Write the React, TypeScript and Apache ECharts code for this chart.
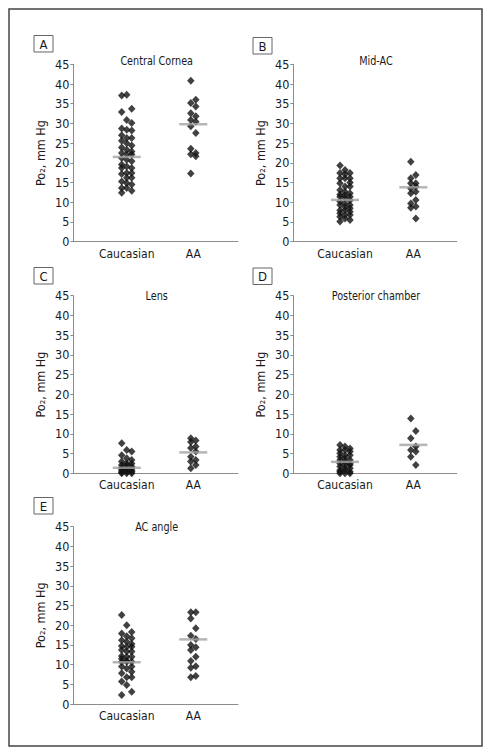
import React, { useEffect, useRef } from 'react';
import * as echarts from 'echarts';

// ---- data ----
const categories = ['Caucasian', 'AA'];
const panelLetters = ['A', 'B', 'C', 'D', 'E'];
const panelTitles = ['Central Cornea', 'Mid-AC', 'Lens', 'Posterior chamber', 'AC angle'];
const yAxisName = 'Po₂, mm Hg';
const yMin = 0;
const yMax = 45;
const yInterval = 5;

const corneaCaucasian = [37.1, 37.3, 33.7, 32.9, 30.9, 30.1, 28.7, 28.4, 28.2, 27.0, 26.3, 26.3, 25.6, 25.0, 24.4, 23.9, 23.3, 22.9, 22.5, 22.1, 22.1, 21.2, 20.8, 20.4, 19.6, 19.1, 18.7, 18.7, 17.4, 17.4, 17.2, 16.2, 16.2, 15.3, 14.9, 14.5, 13.6, 13.6, 12.9, 12.4];
const corneaAA = [40.8, 36.0, 35.2, 34.3, 32.6, 31.8, 30.9, 30.4, 29.3, 27.6, 23.6, 22.5, 22.2, 21.7, 17.3];
const midACCaucasian = [19.3, 18.2, 17.4, 17.4, 17.1, 16.1, 16.1, 16.1, 15.0, 14.8, 14.0, 14.0, 13.1, 12.7, 12.3, 12.0, 11.8, 11.4, 11.4, 11.0, 10.5, 10.2, 9.7, 9.3, 9.3, 8.8, 8.5, 8.0, 8.0, 7.6, 7.2, 6.8, 6.8, 6.3, 5.9, 5.5, 5.1];
const midACAA = [20.3, 16.9, 16.1, 14.8, 14.8, 14.0, 13.5, 12.7, 12.3, 10.6, 9.7, 8.9, 8.6, 5.9];
const lensCaucasian = [7.6, 5.9, 5.5, 4.6, 3.8, 3.4, 3.0, 2.5, 2.5, 2.1, 2.1, 1.7, 1.5, 1.3, 1.3, 1.0, 0.8, 0.8, 0.6, 0.4, 0.4, 0.2, 0.0, 0.0, 0.0];
const lensAA = [8.9, 8.3, 7.9, 6.8, 6.4, 5.5, 4.2, 3.4, 3.0, 2.1, 1.3];
const posteriorCaucasian = [7.2, 6.8, 6.3, 5.9, 5.9, 5.5, 5.1, 4.6, 4.6, 4.2, 3.8, 3.4, 3.4, 3.0, 2.5, 2.5, 2.1, 2.1, 1.7, 1.3, 1.3, 0.8, 0.8, 0.4, 0.4, 0.0, 0.0, 0.0];
const posteriorAA = [13.9, 10.7, 8.9, 6.8, 5.9, 5.5, 4.2, 2.1];
const angleCaucasian = [22.6, 20.0, 18.3, 17.9, 17.2, 16.7, 16.2, 15.8, 15.2, 14.7, 14.5, 14.5, 13.7, 13.3, 13.3, 12.2, 12.0, 12.0, 11.5, 11.0, 10.7, 10.7, 10.7, 9.5, 9.5, 9.0, 8.2, 7.8, 6.8, 6.8, 5.7, 4.8, 3.1, 2.3];
const angleAA = [23.3, 23.3, 21.7, 19.2, 17.3, 16.5, 15.0, 14.4, 13.7, 12.0, 10.9, 9.6, 9.2, 7.1, 6.8];

const caucasianValues = [corneaCaucasian, midACCaucasian, lensCaucasian, posteriorCaucasian, angleCaucasian];
const aaValues = [corneaAA, midACAA, lensAA, posteriorAA, angleAA];
const meanCaucasian = [21.5, 10.6, 1.4, 2.9, 10.6];
const meanAA = [29.8, 13.8, 5.3, 7.2, 16.4];

// ---- layout (pixels) ----
const FONT = '"DejaVu Sans Condensed", "Liberation Sans Narrow", sans-serif';
const grids = [
  { left: 73.3, top: 64.3, width: 164.7, height: 177.4, xmin: 0.198, xmax: 2.671 },
  { left: 293.3, top: 64.3, width: 163.4, height: 177.4, xmin: 0.243, xmax: 2.635 },
  { left: 73.3, top: 295.7, width: 164.7, height: 177.6, xmin: 0.198, xmax: 2.671 },
  { left: 293.3, top: 295.7, width: 163.4, height: 177.6, xmin: 0.243, xmax: 2.635 },
  { left: 73.3, top: 526.7, width: 164.7, height: 177.3, xmin: 0.198, xmax: 2.671 },
];
const letterBoxes = [
  { x: 34, y: 35.5 },
  { x: 253, y: 37.5 },
  { x: 34, y: 267.5 },
  { x: 253, y: 268 },
  { x: 34, y: 497.5 },
];
const titlePos = [
  { x: 156.7, y: 60.7 },
  { x: 376, y: 60.5 },
  { x: 156.7, y: 295.7 },
  { x: 376, y: 295.5 },
  { x: 156.7, y: 527 },
];

const cauOffsets = [-5, 0, 5];
const aaOffsets = [-2.5, 2.5];

export default function App() {
  const ref = useRef<HTMLDivElement>(null);

  useEffect(() => {
    if (!ref.current) return;
    const chart = echarts.init(ref.current, undefined, { renderer: 'svg' });

    const axisColor = '#8c8c8c';
    const textColor = '#1a1a1a';
    const gridOpts: any[] = [];
    const xAxes: any[] = [];
    const yAxes: any[] = [];
    const series: any[] = [];
    const graphics: any[] = [];

    graphics.push({
      type: 'rect',
      shape: { x: 9, y: 9, width: 473, height: 737 },
      style: { fill: 'none', stroke: '#444', lineWidth: 1.5 },
      silent: true,
    });

    grids.forEach((g, i) => {
      gridOpts.push({ left: g.left, top: g.top, width: g.width, height: g.height, containLabel: false });
      xAxes.push({
        type: 'value',
        gridIndex: i,
        min: g.xmin,
        max: g.xmax,
        axisLine: { show: true, onZero: false, lineStyle: { color: axisColor, width: 1 } },
        axisTick: { show: false },
        splitLine: { show: false },
        axisLabel: {
          customValues: [1, 2],
          formatter: (v: number) => (v === 1 ? categories[0] : v === 2 ? categories[1] : ''),
          color: textColor,
          fontSize: 12,
          fontFamily: FONT,
          margin: 6,
        },
      });
      yAxes.push({
        type: 'value',
        gridIndex: i,
        min: yMin,
        max: yMax,
        interval: yInterval,
        axisLine: { show: true, lineStyle: { color: axisColor, width: 1 } },
        axisTick: { show: true, length: 3, lineStyle: { color: axisColor } },
        splitLine: { show: false },
        axisLabel: { color: textColor, fontSize: 12.5, fontFamily: FONT, margin: 4 },
        name: yAxisName,
        nameLocation: 'middle',
        nameGap: 26,
        nameTextStyle: { color: textColor, fontSize: 12.5, fontFamily: FONT },
      });

      series.push({
        type: 'scatter',
        xAxisIndex: i,
        yAxisIndex: i,
        symbol: 'diamond',
        symbolSize: [7.5, 8],
        itemStyle: { color: '#111' },
        data: caucasianValues[i].map((v, k) => ({ value: [1, v], symbolOffset: [cauOffsets[k % 3], 0] })),
        z: 2,
      });
      series.push({
        type: 'scatter',
        xAxisIndex: i,
        yAxisIndex: i,
        symbol: 'diamond',
        symbolSize: [7.5, 8],
        itemStyle: { color: '#111' },
        data: aaValues[i].map((v, k) => ({ value: [2, v], symbolOffset: [aaOffsets[k % 2], 0] })),
        z: 2,
      });
      series.push({
        type: 'scatter',
        xAxisIndex: i,
        yAxisIndex: i,
        symbol: 'rect',
        symbolSize: [28, 2.5],
        itemStyle: { color: '#a3a3a3' },
        data: [[1, meanCaucasian[i]], [2, meanAA[i]]],
        z: 3,
      });

      const b = letterBoxes[i];
      graphics.push({
        type: 'rect',
        shape: { x: b.x, y: b.y, width: 19, height: 16.5 },
        style: { fill: '#fff', stroke: '#666', lineWidth: 1 },
        silent: true,
      });
      graphics.push({
        type: 'text',
        x: b.x + 9.5,
        y: b.y + 8.5,
        style: {
          text: panelLetters[i],
          fill: textColor,
          font: `13px ${FONT}`,
          align: 'center',
          verticalAlign: 'middle',
        },
        silent: true,
      });
      const t = titlePos[i];
      graphics.push({
        type: 'text',
        x: t.x,
        y: t.y,
        scaleX: 0.86,
        style: {
          text: panelTitles[i],
          fill: textColor,
          font: `12.5px ${FONT}`,
          align: 'center',
          verticalAlign: 'middle',
        },
        silent: true,
      });
    });

    chart.setOption({
      animation: false,
      backgroundColor: '#fff',
      grid: gridOpts,
      xAxis: xAxes,
      yAxis: yAxes,
      series,
      graphic: graphics,
    });

    return () => chart.dispose();
  }, []);

  return (
    <div
      ref={ref}
      style={{ position: 'absolute', left: 0, top: 0, width: 492, height: 756 }}
    />
  );
}
